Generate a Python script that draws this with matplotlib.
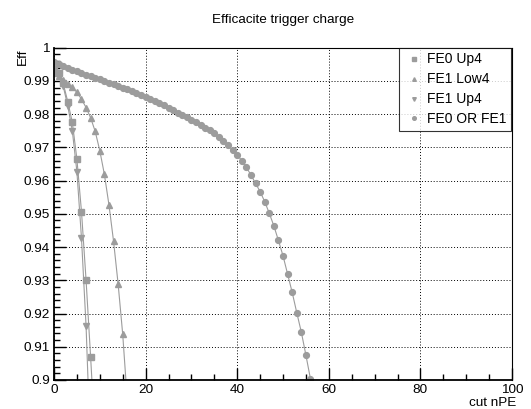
import matplotlib
matplotlib.use("Agg")
import matplotlib.pyplot as plt
from matplotlib.ticker import MultipleLocator
import numpy as np

plt.rcParams['font.family'] = ['Liberation Sans', 'DejaVu Sans']

title = "Efficacite trigger charge"
xlabel = "cut nPE"
ylabel = "Eff"
series_names = ["FE0 Up4", "FE1 Low4", "FE1 Up4", "FE0 OR FE1"]

# FE0 Up4 (squares)
x_fe0_up4 = [0, 1, 2, 3, 4, 5, 6, 7, 8, 9]
y_fe0_up4 = [0.9935, 0.9925, 0.9893, 0.9838, 0.9775, 0.9665, 0.9507, 0.9301, 0.9068, 0.8820]

# FE1 Low4 (up triangles)
x_fe1_low4 = [0, 1, 2, 3, 4, 5, 6, 7, 8, 9, 10, 11, 12, 13, 14, 15, 16]
y_fe1_low4 = [0.9925, 0.9915, 0.9903, 0.9892, 0.9881, 0.9866, 0.9845, 0.9820, 0.9789, 0.9748,
              0.9690, 0.9619, 0.9527, 0.9418, 0.9289, 0.9138, 0.8940]

# FE1 Up4 (down triangles)
x_fe1_up4 = [0, 1, 2, 3, 4, 5, 6, 7, 8]
y_fe1_up4 = [0.9930, 0.9918, 0.9885, 0.9825, 0.9750, 0.9627, 0.9427, 0.9163, 0.8780]

# FE0 OR FE1 (circles)
x_or = list(range(0, 57))
y_or = [0.9958, 0.9952, 0.9946, 0.9940, 0.9934, 0.9929, 0.9924, 0.9919, 0.9914, 0.9909,
        0.9905, 0.9900, 0.9895, 0.9890, 0.9885, 0.9880, 0.9875, 0.9869, 0.9864, 0.9858,
        0.9852, 0.9846, 0.9840, 0.9834, 0.9827, 0.9820, 0.9812, 0.9804, 0.9796, 0.9790,
        0.9783, 0.9775, 0.9766, 0.9759, 0.9751, 0.9742, 0.9731, 0.9719, 0.9706, 0.9692,
        0.9678, 0.9660, 0.9640, 0.9617, 0.9592, 0.9567, 0.9537, 0.9502, 0.9464, 0.9420,
        0.9374, 0.9319, 0.9264, 0.9203, 0.9144, 0.9075, 0.9003]

y_ticks = [0.9, 0.91, 0.92, 0.93, 0.94, 0.95, 0.96, 0.97, 0.98, 0.99, 1.0]
y_ticklabels = ["0.9", "0.91", "0.92", "0.93", "0.94", "0.95", "0.96", "0.97", "0.98", "0.99", "1"]

gray = '#9c9c9c'
fs = 9.7
fig = plt.figure(figsize=(5.31, 4.09), dpi=100)
ax = fig.add_axes([54/531, 29/409, 458/531, 332.3/409])

specs = [
    (x_fe0_up4, y_fe0_up4, 's', 4.0),
    (x_fe1_low4, y_fe1_low4, '^', 4.0),
    (x_fe1_up4, y_fe1_up4, 'v', 4.0),
    (x_or, y_or, 'o', 4.2),
]
handles = []
for (xs, ys, m, ms), name in zip(specs, series_names):
    ax.plot(xs, ys, color=gray, lw=0.8, marker=m, ms=ms, mec=gray, mfc=gray, clip_on=True)
    h, = ax.plot([], [], ls='none', marker=m, ms=2.6, color=gray, mec=gray, mfc=gray, label=name)
    handles.append(h)

ax.set_xlim(0, 100)
ax.set_ylim(0.9, 1.0)
ax.xaxis.set_major_locator(MultipleLocator(20))
ax.xaxis.set_minor_locator(MultipleLocator(5))
ax.set_yticks(y_ticks)
ax.set_yticklabels(y_ticklabels)
ax.yaxis.set_minor_locator(MultipleLocator(0.002))
ax.tick_params(which='major', direction='in', length=8.6, width=1.0, labelsize=fs, pad=3)
ax.tick_params(which='minor', direction='in', length=4.3, width=1.0)
ax.tick_params(top=False, right=False, which='both')

ax.grid(True, which='major', color='black', ls=(0, (1, 2)), lw=0.7)
for s in ['left', 'bottom']:
    ax.spines[s].set_linewidth(1.3)
for s in ['top', 'right']:
    ax.spines[s].set_linewidth(0.8)

ax.set_xlabel(xlabel, loc='right', fontsize=fs)
ax.xaxis.set_label_coords(1.01, -0.069)
ax.xaxis.label.set_va('center')
ax.set_ylabel(ylabel, loc='top', fontsize=fs)
ax.yaxis.set_label_coords(-0.054, 0.998)
fig.text(283/531, 1 - 20/409, title, ha='center', va='center', fontsize=fs)

leg = ax.legend(handles=handles, loc='upper right', bbox_to_anchor=(0.998, 1.0),
                fontsize=10, frameon=True, fancybox=False, edgecolor='black',
                borderpad=0.34, labelspacing=0.43, handlelength=1.6, handletextpad=0.1,
                borderaxespad=0.0)
leg.get_frame().set_linewidth(0.8)

fig.savefig("out.png", dpi=100)
